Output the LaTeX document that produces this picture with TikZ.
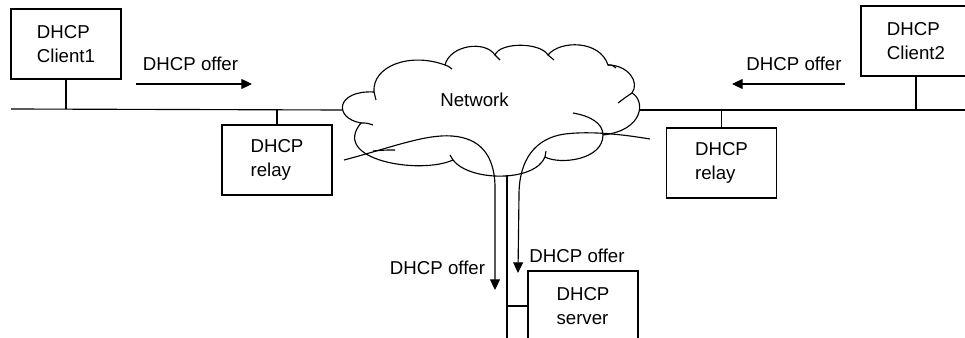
\documentclass[tikz,border=0pt]{standalone}
\usepackage{fontspec}
\setmainfont{Liberation Sans}
\usetikzlibrary{arrows.meta}
\begin{document}
\begin{tikzpicture}[x=0.75pt,y=-0.75pt,
  line width=0.85pt,
  every node/.style={font=\fontsize{14}{18.5}\selectfont},
  box/.style={draw,minimum width=82.5pt,minimum height=52.5pt,align=left,inner sep=0pt},
  lbl/.style={anchor=base,inner sep=0pt},
  arr/.style={-{Triangle[length=8pt,width=7.5pt]}},
  cloudline/.style={line width=0.85pt}]
\useasboundingbox (0,0) rectangle (965,338);
% boxes
\node[box] (c1) at (66,44) {DHCP\\Client1};
\node[box] (r1) at (277,160) {DHCP\\relay};
\node[box] (r2) at (721.5,163) {DHCP\\relay};
\node[box] (c2) at (916,41) {DHCP\\Client2};
\node[box] (srv) at (583,306) {DHCP\\server};
% bus coordinates
\coordinate (lanL) at (11,109);
\coordinate (cloudW) at (342,110);
\coordinate (cloudE) at (640,110);
\coordinate (lanR) at (965,110);
\coordinate (cloudS) at (507,175);
\coordinate (busEnd) at (507,338);
\draw (lanL) -- (cloudW);
\draw (cloudE) -- (lanR);
\draw (c1.south) -- (c1.south |- lanL);
\draw (r1.north) -- (r1.north |- lanL);
\draw (r2.north) -- (r2.north |- cloudE);
\draw (c2.south) -- (c2.south |- cloudE);
\draw (cloudS) -- (busEnd);
\draw (srv.west) -- (srv.west -| cloudS);
% cloud
\draw[cloudline] (374,92) .. controls (372,66) and (410,52) .. (445,65)
  .. controls (450,45) and (485,40) .. (495,55)
  .. controls (500,42) and (540,42) .. (548,55)
  .. controls (560,40) and (600,40) .. (608,65)
  .. controls (628,65) and (640,82) .. (632,93)
  .. controls (645,100) and (645,130) .. (603,135)
  .. controls (603,160) and (560,165) .. (545,157)
  .. controls (535,182) and (470,182) .. (453,160)
  .. controls (420,175) and (330,160) .. (361,123)
  .. controls (333,118) and (336,90) .. (374,92) -- cycle;
% inner strokes of the cloud
\draw[cloudline] (374,92) .. controls (375,95) .. (376,100);
\draw[cloudline] (445,65) .. controls (448,66) .. (452,69);
\draw[cloudline] (495,55) .. controls (497,57) .. (500,60);
\draw[cloudline] (548,55) .. controls (551,57) .. (554,60);
\draw[cloudline] (608,65) .. controls (612,65) .. (616,68);
\draw[cloudline] (632,93) .. controls (626,97) .. (618,103);
\draw[cloudline] (603,135) .. controls (603,123) and (590,116) .. (573,113);
\draw[cloudline] (545,157) .. controls (545,154) .. (546,151);
\draw[cloudline] (453,160) .. controls (452,157) .. (450,155);
\draw[cloudline] (361,123) .. controls (367,123) .. (373,125);
\draw[cloudline] (373,151) .. controls (385,150) .. (395,150);
\node[lbl] (net) at (474.5,107) {Network};
% wavy links through the network
\coordinate (wl) at (344,160);
\coordinate (wlEnd) at (495,290);
\coordinate (wr) at (650,139);
\coordinate (wrEnd) at (518,273);
\draw[arr] (wl) .. controls (390,148) and (425,134) .. (452,136)
  .. controls (480,138) and (494,155) .. (495,185) -- (wlEnd);
\draw[arr] (wr) .. controls (620,134) and (590,131) .. (565,134)
  .. controls (535,138) and (519,160) .. (519,195) -- (wrEnd);
% top arrows
\coordinate (a1s) at (136,84);
\coordinate (a1e) at (252,84);
\coordinate (a2s) at (845,84);
\coordinate (a2e) at (732,84);
\draw[arr] (a1s) -- (a1e);
\draw[arr] (a2s) -- (a2e);
% labels
\node[lbl] (l1) at (190.5,71) {DHCP offer};
\node[lbl] (l2) at (794,71) {DHCP offer};
\node[lbl] (l3) at (437.5,275) {DHCP offer};
\node[lbl] (l4) at (577,263) {DHCP offer};
\end{tikzpicture}
\end{document}
